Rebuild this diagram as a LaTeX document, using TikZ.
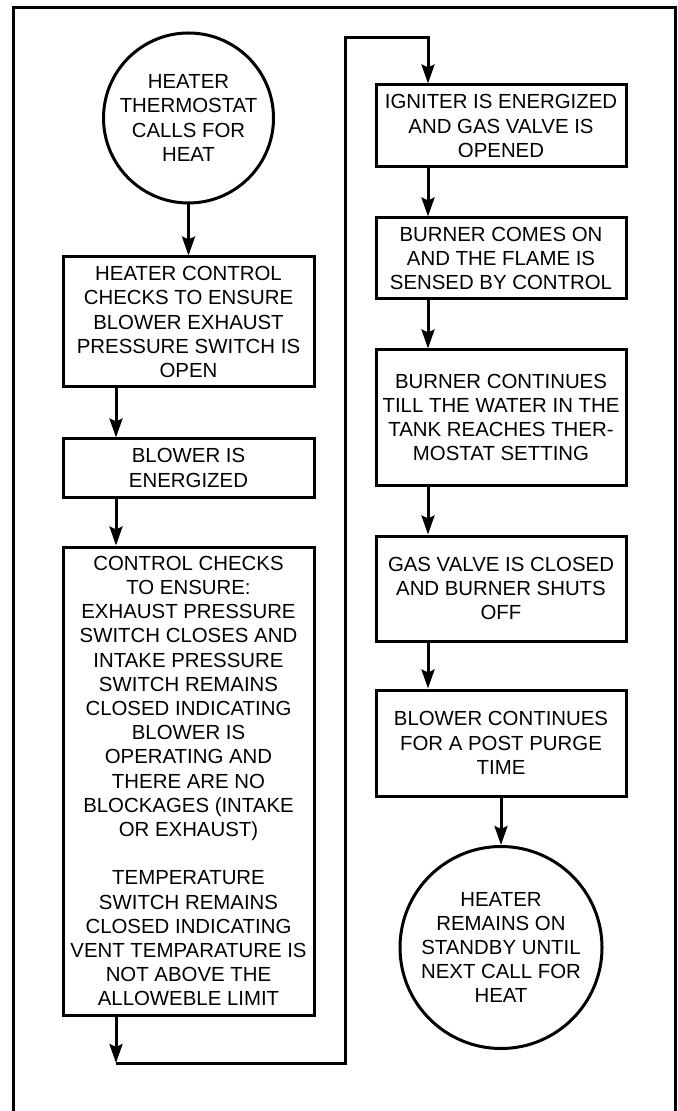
\documentclass[tikz,border=0pt]{standalone}
\usepackage{fontspec}
\setmainfont{Liberation Sans}
\usetikzlibrary{arrows.meta}

\begin{document}
\begin{tikzpicture}[
  x=0.5pt, y=-0.5pt,
  >={Stealth[length=9.5pt, width=6.5pt, inset=1.5pt]},
  line width=1.5pt,
  txt/.style={font=\fontsize{10.2}{12.1}\selectfont, align=center, inner sep=0pt},
  stepbox/.style={txt, draw, rectangle, minimum width=125.5pt},
  endpoint/.style={txt, draw, circle},
  flow/.style={->}
]
  \useasboundingbox (0,0) rectangle (678,1111);

  % outer frame (bottom edge runs off the page)
  \draw (13,1111) -- (13,8) -- (675,8) -- (675,1111);

  % left column
  \node[endpoint, minimum size=85pt] (start) at (188.5,118)
    {HEATER\\THERMOSTAT\\CALLS FOR\\HEAT};
  \node[stepbox, minimum height=65pt] (check) at (188.5,322)
    {HEATER CONTROL\\CHECKS TO ENSURE\\BLOWER EXHAUST\\PRESSURE SWITCH IS\\OPEN};
  \node[stepbox, minimum height=29pt] (blower) at (188.5,468)
    {BLOWER IS\\ENERGIZED};
  \node[stepbox, minimum height=234pt] (ensure) at (188.5,781)
    {CONTROL CHECKS\\TO ENSURE:\\EXHAUST PRESSURE\\SWITCH CLOSES AND\\INTAKE PRESSURE\\SWITCH REMAINS\\CLOSED INDICATING\\BLOWER IS\\OPERATING AND\\THERE ARE NO\\BLOCKAGES (INTAKE\\OR EXHAUST)\\[12.1pt]
     TEMPERATURE\\SWITCH REMAINS\\CLOSED INDICATING\\VENT TEMPARATURE IS\\NOT ABOVE THE\\ALLOWEBLE LIMIT};

  % right column
  \node[stepbox, minimum width=125pt, minimum height=41pt] (igniter) at (501,126)
    {IGNITER IS ENERGIZED\\AND GAS VALVE IS\\OPENED};
  \node[stepbox, minimum width=125pt, minimum height=40.5pt] (flame) at (501,258.5)
    {BURNER COMES ON\\AND THE FLAME IS\\SENSED BY CONTROL};
  \node[stepbox, minimum width=125pt, minimum height=67.5pt] (burn) at (501,417.5)
    {BURNER CONTINUES\\TILL THE WATER IN THE\\TANK REACHES THER-\\MOSTAT SETTING};
  \node[stepbox, minimum width=125pt, minimum height=52.5pt] (valve) at (501,588.5)
    {GAS VALVE IS CLOSED\\AND BURNER SHUTS\\OFF};
  \node[stepbox, minimum width=125pt, minimum height=53pt] (purge) at (501,743)
    {BLOWER CONTINUES\\FOR A POST PURGE\\TIME};
  \node[endpoint, minimum size=101pt] (standby) at (501,947.5)
    {HEATER\\REMAINS ON\\STANDBY UNTIL\\NEXT CALL FOR\\HEAT};

  % lanes of the arrows
  \coordinate (laneL) at (116,0);
  \coordinate (laneR) at (428,0);
  \coordinate (loopbot) at (116,1063);
  \coordinate (looptop) at (345,38);

  % connectors
  \draw[flow] (start) -- (check);
  \draw[flow] (check.south -| laneL) -- (blower.north -| laneL);
  \draw[flow] (blower.south -| laneL) -- (ensure.north -| laneL);
  \draw[flow] (ensure.south -| laneL) -- (loopbot);
  \draw[flow] (loopbot) -| (looptop) -| (igniter.north -| laneR);
  \draw[flow] (igniter.south -| laneR) -- (flame.north -| laneR);
  \draw[flow] (flame.south -| laneR) -- (burn.north -| laneR);
  \draw[flow] (burn.south -| laneR) -- (valve.north -| laneR);
  \draw[flow] (valve.south -| laneR) -- (purge.north -| laneR);
  \draw[flow] (purge) -- (standby);
\end{tikzpicture}
\end{document}
